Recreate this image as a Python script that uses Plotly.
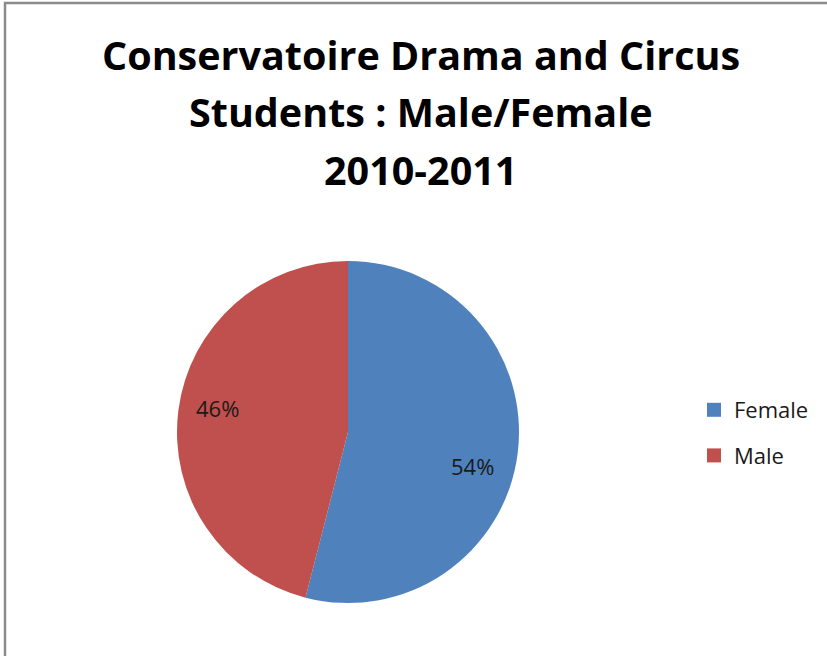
import plotly.graph_objects as go

labels = ["Female", "Male"]
values = [54, 46]
colors = ["#4F81BD", "#C0504D"]
title_lines = ["Conservatoire Drama and Circus", "Students : Male/Female", "2010-2011"]

W, H = 827, 656

fig = go.Figure()
fig.add_trace(go.Pie(
    labels=labels,
    values=values,
    sort=False,
    direction="clockwise",
    rotation=0,
    marker=dict(colors=colors, line=dict(width=0)),
    textinfo="none",
    showlegend=False,
    domain=dict(x=[177 / W, 519 / W], y=[1 - 603 / H, 1 - 261 / H]),
    hoverinfo="label+percent",
))

# legend entries (square swatches) with a wider gap between them
for lab, col in zip(labels, colors):
    fig.add_trace(go.Scatter(
        x=[None], y=[None], mode="markers", name=lab,
        legendgroup=lab,
        marker=dict(symbol="square", size=14, color=col),
        hoverinfo="skip",
    ))

annotations = []
# title lines
title_centers = [55, 112, 170]
for line, cy in zip(title_lines, title_centers):
    annotations.append(dict(
        text="<b>" + line + "</b>", x=421 / W, y=1 - cy / H,
        xref="paper", yref="paper", xanchor="center", yanchor="middle",
        showarrow=False,
        font=dict(family="Open Sans", size=39.5, color="#000000"),
    ))

# percentage labels
total = sum(values)
label_pos = [(473, 466), (218, 408)]
for v, (px, py) in zip(values, label_pos):
    annotations.append(dict(
        text=f"{round(100 * v / total)}%", x=px / W, y=1 - py / H,
        xref="paper", yref="paper", xanchor="center", yanchor="middle",
        showarrow=False,
        font=dict(family="Open Sans", size=22, color="#1a1a1a"),
    ))

fig.update_layout(
    width=W, height=H,
    margin=dict(l=0, r=0, t=0, b=0),
    paper_bgcolor="white",
    plot_bgcolor="white",
    xaxis=dict(visible=False),
    yaxis=dict(visible=False),
    annotations=annotations,
    legend=dict(
        x=694 / W, xanchor="left",
        y=1 - 389 / H, yanchor="top",
        font=dict(family="Open Sans", size=22, color="#1a1a1a"),
        itemsizing="trace",
        tracegroupgap=14,
        bgcolor="rgba(0,0,0,0)",
    ),
    shapes=[dict(
        type="rect", xref="paper", yref="paper",
        x0=5 / W, x1=1.02, y0=-0.02, y1=1 - 3 / H,
        line=dict(color="#8c8c8c", width=2.5),
        fillcolor="rgba(0,0,0,0)",
    )],
)

fig.write_html("out.html", config={"displayModeBar": False},
               post_script="document.body.style.margin='0';")
